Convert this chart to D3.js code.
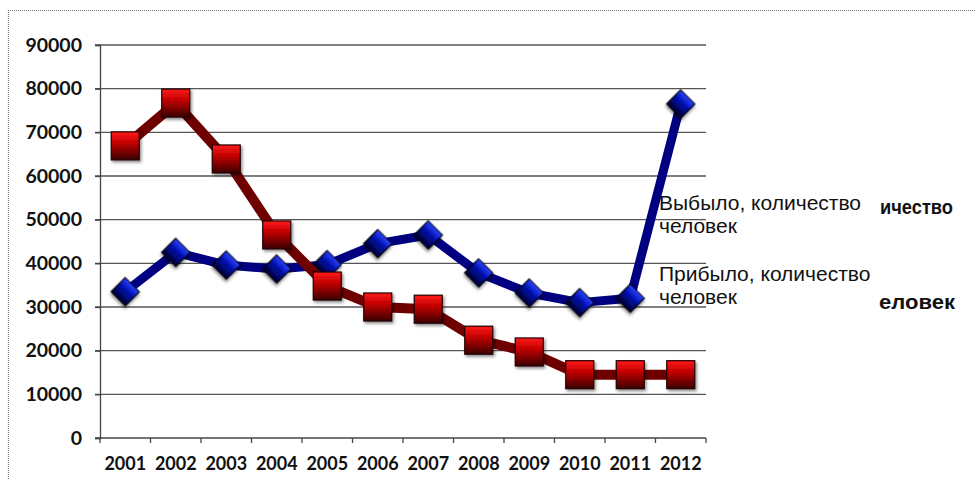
<!DOCTYPE html>
<html>
<head>
<meta charset="utf-8">
<script src="https://cdn.jsdelivr.net/npm/d3@7"></script>
<style>
  body { margin: 0; background: #fff; }
  svg { display: block; }
</style>
</head>
<body>
<svg id="chart" width="976" height="479"></svg>
<script>
var years = ['2001', '2002', '2003', '2004', '2005', '2006', '2007', '2008', '2009', '2010', '2011', '2012'];
var arrived = [33500, 42500, 39600, 38700, 39700, 44500, 46500, 37800, 33200, 31000, 32000, 76500];
var departed = [66900, 76700, 63900, 46500, 34800, 30000, 29500, 22400, 19700, 14500, 14500, 14500];
var yTicks = [0, 10000, 20000, 30000, 40000, 50000, 60000, 70000, 80000, 90000];
var labelDeparted = ['Выбыло, количество', 'человек'];
var labelArrived = ['Прибыло, количество', 'человек'];

var svg = d3.select('#chart');
var defs = svg.append('defs');

var x = d3.scaleBand().domain(years).range([100, 706]);
var y = d3.scaleLinear().domain([0, 90000]).range([438, 45]);

// marker shading
function grad(id, top, mid, bottom) {
  var g = defs.append('linearGradient').attr('id', id)
    .attr('x1', 0).attr('y1', 0).attr('x2', 0).attr('y2', 1);
  g.append('stop').attr('offset', '0%').attr('stop-color', top);
  g.append('stop').attr('offset', '40%').attr('stop-color', mid);
  g.append('stop').attr('offset', '100%').attr('stop-color', bottom);
}
grad('redGrad', '#ff1a1a', '#c00000', '#3a0000');
grad('blueGrad', '#2b45ff', '#0010b0', '#000030');

var shadow = defs.append('filter').attr('id', 'shadow')
  .attr('x', '-30%').attr('y', '-30%').attr('width', '160%').attr('height', '160%');
shadow.append('feDropShadow').attr('dx', 1.5).attr('dy', 2)
  .attr('stdDeviation', 1.5).attr('flood-color', '#000').attr('flood-opacity', 0.45);

// outer frame
svg.append('path')
  .attr('d', 'M8.5,479 V10.5 H976')
  .attr('fill', 'none')
  .attr('stroke', '#777')
  .attr('stroke-width', 1.2)
  .attr('stroke-dasharray', '1,1');

// gridlines
svg.append('g')
  .selectAll('line')
  .data(yTicks.slice(1))
  .enter()
  .append('line')
  .attr('x1', 95).attr('x2', 706)
  .attr('y1', function (d) { return y(d); })
  .attr('y2', function (d) { return y(d); })
  .attr('stroke', '#555')
  .attr('stroke-width', 1.3);

// y axis
var yAxis = svg.append('g')
  .attr('transform', 'translate(100,0)')
  .call(d3.axisLeft(y).tickValues(yTicks).tickSize(5).tickPadding(13).tickFormat(d3.format('d')));
yAxis.select('.domain').attr('stroke', '#444').attr('stroke-width', 1.3);
yAxis.selectAll('.tick line').attr('stroke', '#444').attr('stroke-width', 1.3);
yAxis.selectAll('text')
  .style('font-family', 'Lato, sans-serif')
  .style('font-weight', 'bold')
  .style('font-size', '19.5px')
  .attr('fill', '#111');

// x axis
var xAxis = svg.append('g')
  .attr('transform', 'translate(0,438)')
  .call(d3.axisBottom(x).tickSize(0).tickPadding(19));
xAxis.select('.domain').attr('stroke', '#444').attr('stroke-width', 1.3)
  .attr('d', 'M95,0H706');
xAxis.selectAll('.tick line').remove();
xAxis.selectAll('text')
  .style('font-family', 'Lato, sans-serif')
  .style('font-weight', 'bold')
  .style('font-size', '18px')
  .attr('fill', '#111');
xAxis.append('g')
  .selectAll('line')
  .data(x.domain().concat(['end']))
  .enter()
  .append('line')
  .attr('x1', function (d, i) { return 100 + i * x.bandwidth(); })
  .attr('x2', function (d, i) { return 100 + i * x.bandwidth(); })
  .attr('y1', 0).attr('y2', 5)
  .attr('stroke', '#444').attr('stroke-width', 1.3);

function cx(d, i) { return x(years[i]) + x.bandwidth() / 2; }

var line = d3.line()
  .x(function (d, i) { return cx(d, i); })
  .y(function (d) { return y(d); });

// arrived series (blue, diamonds)
svg.append('path')
  .datum(arrived)
  .attr('d', line)
  .attr('fill', 'none')
  .attr('stroke', '#000080')
  .attr('stroke-width', 9)
  .attr('stroke-linejoin', 'round');

svg.append('g')
  .selectAll('path')
  .data(arrived)
  .enter()
  .append('path')
  .attr('transform', function (d, i) { return 'translate(' + cx(d, i) + ',' + y(d) + ') rotate(45)'; })
  .attr('d', 'M-10,-10H10V10H-10Z')
  .attr('fill', 'url(#blueGrad)')
  .attr('stroke', '#000')
  .attr('stroke-width', 1.2)
  .attr('filter', 'url(#shadow)');

// departed series (red, squares)
svg.append('path')
  .datum(departed)
  .attr('d', line)
  .attr('fill', 'none')
  .attr('stroke', '#6e0000')
  .attr('stroke-width', 10)
  .attr('stroke-linejoin', 'round');

svg.append('g')
  .selectAll('rect')
  .data(departed)
  .enter()
  .append('rect')
  .attr('x', function (d, i) { return cx(d, i) - 14; })
  .attr('y', function (d) { return y(d) - 14; })
  .attr('width', 28)
  .attr('height', 28)
  .attr('fill', 'url(#redGrad)')
  .attr('stroke', '#200')
  .attr('stroke-width', 1.2)
  .attr('filter', 'url(#shadow)');

// bold leftovers behind the labels
var ghost = svg.append('g')
  .attr('font-family', 'Liberation Sans, Arial, sans-serif')
  .attr('font-weight', 'bold')
  .attr('font-size', 20)
  .attr('fill', '#111');
ghost.append('text').attr('x', 880).attr('y', 214)
  .attr('textLength', 73).attr('lengthAdjust', 'spacingAndGlyphs').text('ичество');
ghost.append('text').attr('x', 879).attr('y', 309)
  .attr('textLength', 76).attr('lengthAdjust', 'spacingAndGlyphs').text('еловек');

// series labels
function label(lines, top) {
  var t = svg.append('text')
    .attr('font-family', 'Liberation Sans, Arial, sans-serif')
    .attr('font-size', 21)
    .attr('fill', '#111');
  t.selectAll('tspan')
    .data(lines)
    .enter()
    .append('tspan')
    .attr('x', 659)
    .attr('y', function (d, i) { return top + i * 23; })
    .text(function (d) { return d; });
}
label(labelDeparted, 210);
label(labelArrived, 281);
</script>
</body>
</html>
